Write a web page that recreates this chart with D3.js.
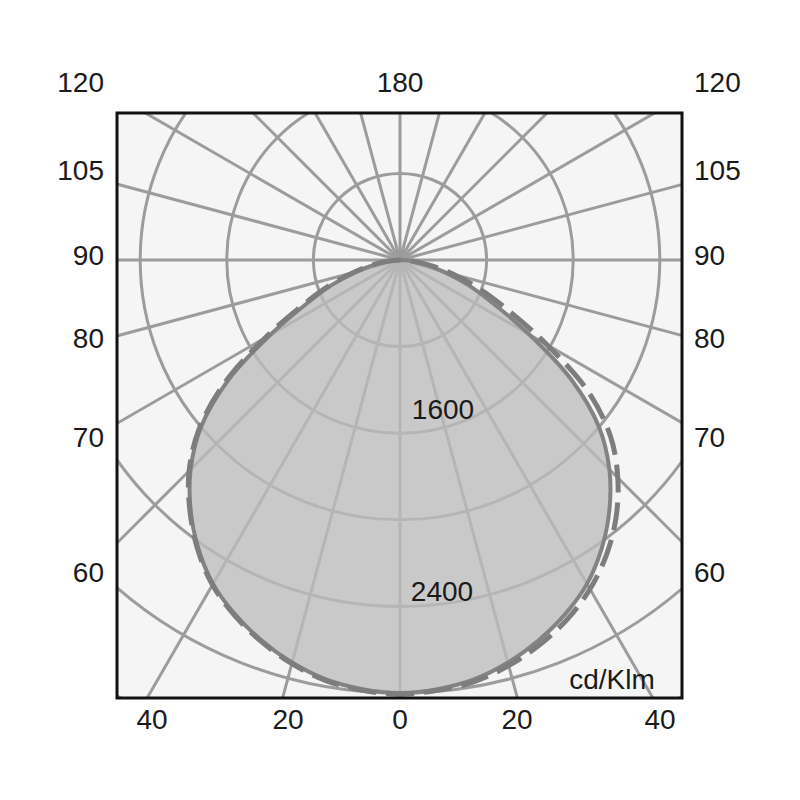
<!DOCTYPE html>
<html>
<head>
<meta charset="utf-8">
<script src="https://cdn.jsdelivr.net/npm/d3@7"></script>
<style>
  html, body { margin: 0; padding: 0; background: #ffffff; }
  svg { display: block; }
  text { font-family: "Liberation Sans", Arial, sans-serif; fill: #1a1a1a; }
</style>
</head>
<body>
<svg id="chart" width="800" height="800"></svg>
<script>
// ---------------- DATA ----------------
const gammaDeg = [0, 5, 10, 15, 20, 25, 30, 35, 40, 45, 50, 55, 60, 65, 70, 75, 80, 85, 90];
// solid curve (both sides, symmetric), cd/klm
const solidIntensity = [4000, 3980, 3935, 3850, 3740, 3610, 3455, 3250, 3010, 2735, 2400, 1940, 1385, 950, 665, 415, 230, 90, 0];
// dashed curve, left half and right half
const dashedLeftIntensity = [4010, 3990, 3945, 3860, 3750, 3620, 3465, 3260, 3020, 2755, 2420, 1975, 1440, 1000, 700, 445, 250, 100, 0];
const dashedRightIntensity = [4010, 3990, 3955, 3880, 3780, 3660, 3510, 3325, 3105, 2845, 2540, 2125, 1570, 1110, 785, 510, 275, 110, 0];

const ringValues = [800, 1600, 2400, 3200, 4000, 4800, 5600];
const spokeStepDeg = 15;
const sideLabels = ["120", "105", "90", "80", "70", "60"];
const topLabel = "180";
const bottomLabels = ["40", "20", "0", "20", "40"];
const ringLabels = ["1600", "2400"];
const unitLabel = "cd/Klm";

// ---------------- LAYOUT ----------------
const box = { x0: 117, y0: 113, x1: 682, y1: 698 };
const cx = 400, cy = 260;
const sideLabelY = [92, 180, 265, 348, 447, 582];
const leftLabelX = 104, rightLabelX = 694;
const bottomLabelX = [152, 288, 400, 517, 660];
const bottomLabelY = 729;
const ringLabelPos = [[443, 419], [442, 601]];
const unitPos = [612, 689];
const fontSize = 28;

const svg = d3.select("#chart");
const r = d3.scaleLinear().domain([0, 800]).range([0, 86.6]);

svg.append("defs").append("clipPath").attr("id", "clip")
  .append("rect")
  .attr("x", box.x0).attr("y", box.y0)
  .attr("width", box.x1 - box.x0).attr("height", box.y1 - box.y0);

// plot background
svg.append("rect")
  .attr("x", box.x0).attr("y", box.y0)
  .attr("width", box.x1 - box.x0).attr("height", box.y1 - box.y0)
  .attr("fill", "#f5f5f5");

const plot = svg.append("g").attr("clip-path", "url(#clip)");
const g = plot.append("g").attr("transform", `translate(${cx},${cy})`);

const gridColor = "#9c9c9c";
// rings
g.selectAll("circle.ring").data(ringValues).join("circle")
  .attr("class", "ring")
  .attr("r", d => r(d))
  .attr("fill", "none")
  .attr("stroke", gridColor)
  .attr("stroke-width", 3);

// spokes
const spokes = d3.range(0, 360, spokeStepDeg);
const Rlong = 1000;
g.selectAll("line.spoke").data(spokes).join("line")
  .attr("class", "spoke")
  .attr("x1", 0).attr("y1", 0)
  .attr("x2", d => Rlong * Math.sin(d * Math.PI / 180))
  .attr("y2", d => -Rlong * Math.cos(d * Math.PI / 180))
  .attr("stroke", gridColor)
  .attr("stroke-width", 3);

// build curve points
function curvePoints(leftVals, rightVals) {
  const pts = [];
  for (let i = gammaDeg.length - 1; i >= 0; i--) {
    pts.push({ a: Math.PI + gammaDeg[i] * Math.PI / 180, v: leftVals[i] });
  }
  for (let i = 1; i < gammaDeg.length; i++) {
    pts.push({ a: Math.PI - gammaDeg[i] * Math.PI / 180, v: rightVals[i] });
  }
  return pts;
}

const radial = d3.lineRadial()
  .angle(d => d.a)
  .radius(d => r(d.v))
  .curve(d3.curveCatmullRom.alpha(0.5));

const solidPts = curvePoints(solidIntensity, solidIntensity);
const dashedPts = curvePoints(dashedLeftIntensity, dashedRightIntensity);

// fill (semi-transparent so grid shows through, lighter)
g.append("path")
  .attr("d", radial(solidPts) + "Z")
  .attr("fill", "#bdbdbd")
  .attr("fill-opacity", 0.78)
  .attr("stroke", "none");

// solid outline
g.append("path")
  .attr("d", radial(solidPts))
  .attr("fill", "none")
  .attr("stroke", "#838383")
  .attr("stroke-width", 4);

// dashed outline
g.append("path")
  .attr("d", radial(dashedPts))
  .attr("fill", "none")
  .attr("stroke", "#7d7d7d")
  .attr("stroke-width", 5)
  .attr("stroke-dasharray", "28,10");

// frame
svg.append("rect")
  .attr("x", box.x0).attr("y", box.y0)
  .attr("width", box.x1 - box.x0).attr("height", box.y1 - box.y0)
  .attr("fill", "none")
  .attr("stroke", "#111")
  .attr("stroke-width", 3);

// labels
const labels = svg.append("g").attr("font-size", fontSize);
labels.append("text").attr("x", cx).attr("y", sideLabelY[0])
  .attr("text-anchor", "middle").text(topLabel);
labels.selectAll("text.left").data(sideLabels).join("text")
  .attr("class", "left")
  .attr("x", leftLabelX).attr("y", (d, i) => sideLabelY[i])
  .attr("text-anchor", "end").text(d => d);
labels.selectAll("text.right").data(sideLabels).join("text")
  .attr("class", "right")
  .attr("x", rightLabelX).attr("y", (d, i) => sideLabelY[i])
  .attr("text-anchor", "start").text(d => d);
labels.selectAll("text.bottom").data(bottomLabels).join("text")
  .attr("class", "bottom")
  .attr("x", (d, i) => bottomLabelX[i]).attr("y", bottomLabelY)
  .attr("text-anchor", "middle").text(d => d);
labels.selectAll("text.ring").data(ringLabels).join("text")
  .attr("class", "ring")
  .attr("x", (d, i) => ringLabelPos[i][0]).attr("y", (d, i) => ringLabelPos[i][1])
  .attr("text-anchor", "middle").text(d => d);
labels.append("text").attr("x", unitPos[0]).attr("y", unitPos[1])
  .attr("text-anchor", "middle").text(unitLabel);
</script>
</body>
</html>
